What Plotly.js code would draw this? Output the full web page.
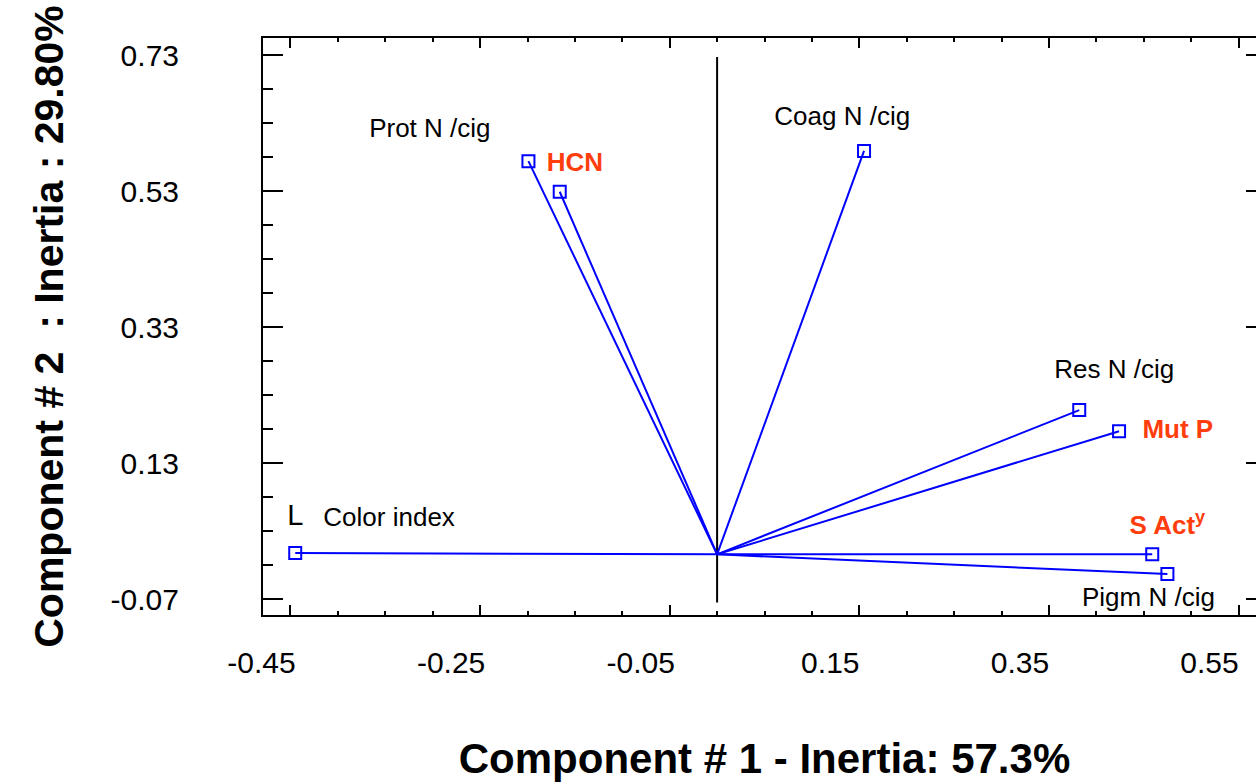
<!DOCTYPE html>
<html>
<head>
<meta charset="utf-8">
<script src="https://cdn.plot.ly/plotly-3.0.1.min.js"></script>
<style>
  html, body { margin: 0; padding: 0; overflow: hidden; background: #ffffff; }
  #chart { width: 1290px; height: 782px; }
</style>
</head>
<body>
<div id="chart"></div>
<script>
// ---- Data ----
const variables = ["Color index", "Prot N /cig", "HCN", "Coag N /cig", "Res N /cig", "Mut P", "S Act", "Pigm N /cig"];
const comp1 = [-0.445, -0.199, -0.166, 0.155, 0.382, 0.424, 0.459, 0.475];
const comp2 = [-0.002, 0.574, 0.529, 0.589, 0.208, 0.177, -0.004, -0.033];
const originX = 0;
const originY = -0.004;

// Label texts and their anchor positions (data coordinates)
const blackLabels = ["Prot N /cig", "Coag N /cig", "Res N /cig", "Color index", "Pigm N /cig"];
const blackLabelX = [-0.303, 0.132, 0.419, -0.346, 0.455];
const blackLabelY = [0.619, 0.636, 0.265, 0.047, -0.071];
const markLabels = ["L"];
const markLabelX = [-0.445];
const markLabelY = [0.050];
const redLabels = ["HCN", "Mut P", "S Act<sup>y</sup>"];
const redLabelX = [-0.150, 0.486, 0.475];
const redLabelY = [0.569, 0.176, 0.035];

// Vertical reference line at component 1 = 0
const refLineX = [0, 0];
const refLineY = [-0.075, 0.727];

// Axis ticks
const xTickVals = [-0.45, -0.25, -0.05, 0.15, 0.35, 0.55];
const xTickText = ["-0.45", "-0.25", "-0.05", "0.15", "0.35", "0.55"];
const yTickVals = [-0.07, 0.13, 0.33, 0.53, 0.73];
const yTickText = ["-0.07", "0.13", "0.33", "0.53", "0.73"];
const xMinorStep = 0.05, yMinorStep = 0.05;
const xRange = [-0.479, 0.579];
const yRange = [-0.0932, 0.755];

// ---- Build vectors from origin ----
const vecX = [], vecY = [];
for (let i = 0; i < comp1.length; i++) {
  vecX.push(originX, comp1[i], null);
  vecY.push(originY, comp2[i], null);
}

const FONT = "Arial, 'Liberation Sans', Helvetica, sans-serif";
const BLUE = "#0000ff";
const RED = "#ff3d0d";

const traces = [
  {
    x: refLineX, y: refLineY, mode: "lines", type: "scatter",
    line: { color: "#000000", width: 2 }, hoverinfo: "skip", showlegend: false
  },
  {
    x: vecX, y: vecY, mode: "lines", type: "scatter",
    line: { color: BLUE, width: 2 }, hoverinfo: "skip", showlegend: false
  },
  {
    x: comp1, y: comp2, text: variables, mode: "markers", type: "scatter",
    marker: { symbol: "square-open", size: 12, color: BLUE, line: { color: BLUE, width: 2 } },
    hovertemplate: "%{text}<br>(%{x}, %{y})<extra></extra>", showlegend: false
  },
  {
    x: blackLabelX, y: blackLabelY, text: blackLabels, mode: "text", type: "scatter",
    textposition: "middle center",
    textfont: { family: FONT, size: 26, color: "#000000" },
    hoverinfo: "skip", showlegend: false
  },
  {
    x: markLabelX, y: markLabelY, text: markLabels, mode: "text", type: "scatter",
    textposition: "middle center",
    textfont: { family: FONT, size: 29, color: "#000000" },
    hoverinfo: "skip", showlegend: false
  },
  {
    x: redLabelX, y: redLabelY, text: redLabels.map(t => "<b>" + t + "</b>"), mode: "text", type: "scatter",
    textposition: "middle center",
    textfont: { family: FONT, size: 26, color: RED },
    hoverinfo: "skip", showlegend: false
  }
];

const layout = {
  width: 1290, height: 782,
  margin: { l: 263, r: 24, t: 38, b: 167, pad: 0 },
  paper_bgcolor: "#ffffff", plot_bgcolor: "#ffffff",
  font: { family: FONT, color: "#000000" },
  showlegend: false,
  xaxis: {
    range: xRange, tickmode: "array", tickvals: xTickVals, ticktext: xTickText,
    ticks: "inside", ticklen: 10, tickwidth: 2, tickcolor: "#000000",
    minor: { dtick: xMinorStep, tick0: xTickVals[0], ticks: "inside", ticklen: 4, tickwidth: 2, tickcolor: "#000000", showgrid: false },
    showline: true, linewidth: 2, linecolor: "#000000", mirror: "allticks",
    showgrid: false, zeroline: false,
    tickfont: { family: FONT, size: 30, color: "#000000" },
    ticklabelshift: -29, ticklabelstandoff: 20,
    title: { text: "<b>Component # 1 - Inertia: 57.3%</b>", font: { family: FONT, size: 42, color: "#000000" }, standoff: 72 }
  },
  yaxis: {
    range: yRange, tickmode: "array", tickvals: yTickVals, ticktext: yTickText,
    ticks: "inside", ticklen: 20, tickwidth: 2, tickcolor: "#000000",
    minor: { dtick: yMinorStep, tick0: yTickVals[0], ticks: "inside", ticklen: 10, tickwidth: 2, tickcolor: "#000000", showgrid: false },
    showline: true, linewidth: 2, linecolor: "#000000", mirror: "allticks",
    showgrid: false, zeroline: false,
    tickfont: { family: FONT, size: 30, color: "#000000" },
    ticklabelstandoff: 76,
    title: { text: "<b>Component # 2&nbsp; : Inertia : 29.80%</b>", font: { family: FONT, size: 41, color: "#000000" }, standoff: 34 }
  }
};

Plotly.newPlot("chart", traces, layout, { displayModeBar: false, staticPlot: true });
</script>
</body>
</html>
